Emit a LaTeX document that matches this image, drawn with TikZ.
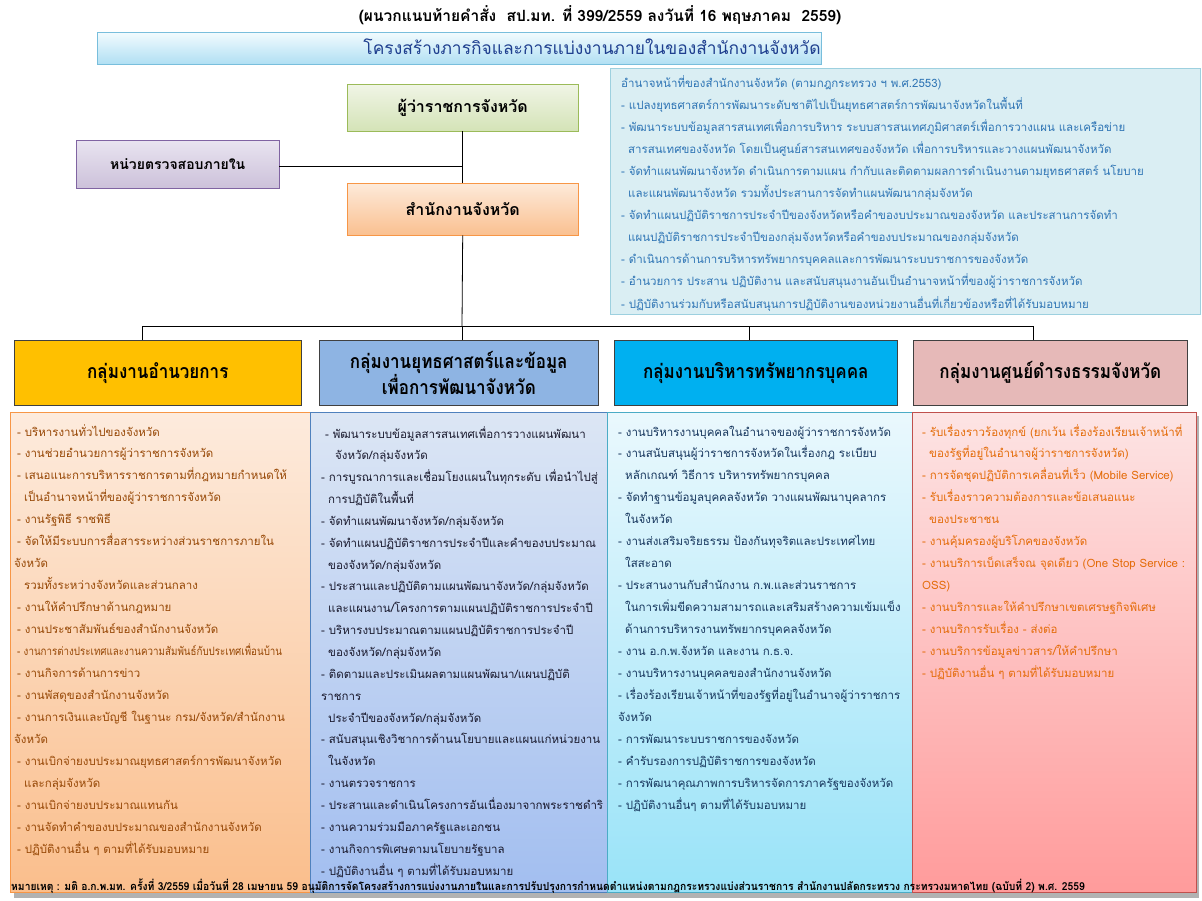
\documentclass[tikz,border=0pt]{standalone}
\usepackage{fontspec}
\setmainfont{Loma}[Script=Thai]
\definecolor{infofill}{HTML}{DAEEF3}
\definecolor{infodraw}{HTML}{9DD0DF}
\definecolor{infotext}{HTML}{2F75B5}
\definecolor{titletext}{HTML}{1F3F8F}
\definecolor{c1text}{HTML}{974806}
\definecolor{c2text}{HTML}{1A1A2E}
\definecolor{c3text}{HTML}{17375E}
\definecolor{c4text}{HTML}{E46C0A}
\newcommand\tallhead[1]{\scalebox{1}[1.15]{#1}}
\tikzset{
  box/.style={draw, inner sep=0pt, anchor=north west, align=center},
  wire/.style={draw=black, line width=0.8pt},
  ltxt/.style={anchor=base west, inner sep=0pt, font=\fontsize{11.5}{14}\selectfont},
  itxt/.style={anchor=base west, inner sep=0pt, font=\fontsize{11.5}{14}\selectfont, text=infotext},
  headbox/.style={box, draw=black!75, line width=0.6pt, minimum height=65pt, font=\bfseries\fontsize{17}{24}\selectfont},
}
\begin{document}
\begin{tikzpicture}[x=1pt,y=-1pt]
\useasboundingbox (0,0) rectangle (1202,900);
\fill[white] (0,0) rectangle (1202,900);
% caption
\node[anchor=base, inner sep=0pt, font=\bfseries\fontsize{15.5}{18}\selectfont] (cap) at (600,21) {(ผนวกแนบท้ายคำสั่ง\ \ สป.มท. ที่ 399/2559 ลงวันที่ 16 พฤษภาคม\ \ 2559)};
% title
\node[box, minimum width=724pt, minimum height=32pt, top color={rgb,255:red,242;green,251;blue,254}, bottom color={rgb,255:red,176;green,223;blue,243}, draw={rgb,255:red,120;green,190;blue,220}] (title) at (97,32) {};
\node[anchor=base, inner sep=0pt, text=titletext, font=\fontsize{17.4}{22}\selectfont] (titletxt) at (592,54) {โครงสร้างภารกิจและการแบ่งงานภายในของสำนักงานจังหวัด};
% info box
\node[box, minimum width=590pt, minimum height=246pt, fill=infofill, draw=infodraw] (info) at (610,68) {};
\foreach \t [count=\i from 0] in {
อำนาจหน้าที่ของสำนักงานจังหวัด (ตามกฎกระทรวง ฯ พ.ศ.2553),
- แปลงยุทธศาสตร์การพัฒนาระดับชาติไปเป็นยุทธศาสตร์การพัฒนาจังหวัดในพื้นที่,
- พัฒนาระบบข้อมูลสารสนเทศเพื่อการบริหาร ระบบสารสนเทศภูมิศาสตร์เพื่อการวางแผน และเครือข่าย,
\hspace{7pt}สารสนเทศของจังหวัด โดยเป็นศูนย์สารสนเทศของจังหวัด เพื่อการบริหารและวางแผนพัฒนาจังหวัด,
- จัดทำแผนพัฒนาจังหวัด ดำเนินการตามแผน กำกับและติดตามผลการดำเนินงานตามยุทธศาสตร์ นโยบาย,
\hspace{7pt}และแผนพัฒนาจังหวัด รวมทั้งประสานการจัดทำแผนพัฒนากลุ่มจังหวัด,
- จัดทำแผนปฏิบัติราชการประจำปีของจังหวัดหรือคำของบประมาณของจังหวัด และประสานการจัดทำ,
\hspace{7pt}แผนปฏิบัติราชการประจำปีของกลุ่มจังหวัดหรือคำของบประมาณของกลุ่มจังหวัด,
- ดำเนินการด้านการบริหารทรัพยากรบุคคลและการพัฒนาระบบราชการของจังหวัด,
- อำนวยการ ประสาน ปฏิบัติงาน และสนับสนุนงานอันเป็นอำนาจหน้าที่ของผู้ว่าราชการจังหวัด,
- ปฏิบัติงานร่วมกับหรือสนับสนุนการปฏิบัติงานของหน่วยงานอื่นที่เกี่ยวข้องหรือที่ได้รับมอบหมาย}
  \node[itxt] (info-\i) at (621, 87+22.1*\i) {\t};
% governor, audit, office
\node[box, minimum width=231pt, minimum height=47pt, top color={rgb,255:red,240;green,245;blue,230}, bottom color={rgb,255:red,212;green,227;blue,183}, draw={rgb,255:red,155;green,187;blue,89}, font=\bfseries\fontsize{16}{20}\selectfont] (gov) at (347,84) {ผู้ว่าราชการจังหวัด};
\node[box, minimum width=203pt, minimum height=48pt, top color={rgb,255:red,233;green,228;blue,240}, bottom color={rgb,255:red,204;green,193;blue,218}, draw={rgb,255:red,128;green,100;blue,162}, font=\bfseries\fontsize{14}{18}\selectfont] (audit) at (76,140) {หน่วยตรวจสอบภายใน};
\node[box, minimum width=231pt, minimum height=52pt, top color={rgb,255:red,253;green,234;blue,218}, bottom color={rgb,255:red,250;green,192;blue,144}, draw={rgb,255:red,247;green,150;blue,70}, font=\bfseries\fontsize{16}{20}\selectfont] (office) at (347,183) {สำนักงานจังหวัด};
% headers
\node[headbox, minimum width=287pt, fill={rgb,255:red,255;green,192;blue,0}] (h1) at (14,340) {\tallhead{กลุ่มงานอำนวยการ}};
\node[headbox, minimum width=279pt, fill={rgb,255:red,142;green,180;blue,227}] (h2) at (319,340) {\tallhead{กลุ่มงานยุทธศาสตร์และข้อมูล}\\\tallhead{เพื่อการพัฒนาจังหวัด}};
\node[headbox, minimum width=283pt, fill={rgb,255:red,0;green,176;blue,240}] (h3) at (614,340) {\tallhead{กลุ่มงานบริหารทรัพยากรบุคคล}};
\node[headbox, minimum width=274pt, fill={rgb,255:red,230;green,185;blue,184}] (h4) at (913,340) {\tallhead{กลุ่มงานศูนย์ดำรงธรรมจังหวัด}};
% connectors
\coordinate (bus) at (462,326);
\coordinate (auditj) at (462,166);
\draw[wire] (gov.south) -- (office.north);
\draw[wire] (audit.east |- auditj) -- (auditj);
\draw[wire] (office.south) -- (bus);
\draw[wire] (142,326) coordinate (b1) -- (1033,326) coordinate (b4);
\draw[wire] (b1) -- (h1.north -| b1);
\draw[wire] (bus) -- (h2.north -| bus);
\coordinate (b3) at (749,326);
\draw[wire] (b3) -- (h3.north -| b3);
\draw[wire] (b4) -- (h4.north -| b4);
% shadow of content boxes
\fill[black!30] (14,416) rectangle (1199,898);
% content boxes
\node[box, minimum width=300pt, minimum height=480pt, top color={rgb,255:red,253;green,235;blue,221}, bottom color={rgb,255:red,250;green,190;blue,140}, draw={rgb,255:red,247;green,150;blue,70}, line width=0.8pt] (c1) at (10,412) {};
\node[box, minimum width=297pt, minimum height=480pt, top color={rgb,255:red,220;green,230;blue,244}, bottom color={rgb,255:red,162;green,190;blue,240}, draw={rgb,255:red,79;green,129;blue,189}, line width=0.8pt] (c2) at (310,412) {};
\node[box, minimum width=305pt, minimum height=480pt, top color={rgb,255:red,234;green,248;blue,253}, bottom color={rgb,255:red,153;green,227;blue,248}, draw={rgb,255:red,75;green,172;blue,198}, line width=0.8pt] (c3) at (607,412) {};
\node[box, minimum width=284pt, minimum height=480pt, top color={rgb,255:red,253;green,228;blue,228}, bottom color={rgb,255:red,255;green,155;blue,155}, draw={rgb,255:red,192;green,80;blue,77}, line width=0.8pt] (c4) at (912,412) {};
% column 1 text
\foreach \t [count=\i from 0] in {
\hspace{3pt}- บริหารงานทั่วไปของจังหวัด,
\hspace{3pt}- งานช่วยอำนวยการผู้ว่าราชการจังหวัด,
\hspace{3pt}- เสนอแนะการบริหารราชการตามที่กฎหมายกำหนดให้,
\hspace{10pt}เป็นอำนาจหน้าที่ของผู้ว่าราชการจังหวัด,
\hspace{3pt}- งานรัฐพิธี ราชพิธี,
\hspace{3pt}- จัดให้มีระบบการสื่อสารระหว่างส่วนราชการภายใน,
จังหวัด,
\hspace{10pt}รวมทั้งระหว่างจังหวัดและส่วนกลาง,
\hspace{3pt}- งานให้คำปรึกษาด้านกฎหมาย,
\hspace{3pt}- งานประชาสัมพันธ์ของสำนักงานจังหวัด,
\hspace{3pt}\scalebox{0.85}[1]{- งานการต่างประเทศและงานความสัมพันธ์กับประเทศเพื่อนบ้าน},
\hspace{3pt}- งานกิจการด้านการข่าว,
\hspace{3pt}- งานพัสดุของสำนักงานจังหวัด,
\hspace{3pt}- งานการเงินและบัญชี ในฐานะ กรม/จังหวัด/สำนักงาน,
จังหวัด,
\hspace{3pt}- งานเบิกจ่ายงบประมาณยุทธศาสตร์การพัฒนาจังหวัด,
\hspace{10pt}และกลุ่มจังหวัด,
\hspace{3pt}- งานเบิกจ่ายงบประมาณแทนกัน,
\hspace{3pt}- งานจัดทำคำของบประมาณของสำนักงานจังหวัด,
\hspace{3pt}- ปฏิบัติงานอื่น ๆ ตามที่ได้รับมอบหมาย}
  \node[ltxt, text=c1text] (c1-\i) at (14, 436+21.95*\i) {\t};
% column 2 text
\foreach \t [count=\i from 0] in {
\hspace{4pt}- พัฒนาระบบข้อมูลสารสนเทศเพื่อการวางแผนพัฒนา,
\hspace{14pt}จังหวัด/กลุ่มจังหวัด,
- การบูรณาการและเชื่อมโยงแผนในทุกระดับ เพื่อนำไปสู่,
\hspace{7pt}การปฏิบัติในพื้นที่,
- จัดทำแผนพัฒนาจังหวัด/กลุ่มจังหวัด,
- จัดทำแผนปฏิบัติราชการประจำปีและคำของบประมาณ,
\hspace{7pt}ของจังหวัด/กลุ่มจังหวัด,
- ประสานและปฏิบัติตามแผนพัฒนาจังหวัด/กลุ่มจังหวัด,
\hspace{7pt}และแผนงาน/โครงการตามแผนปฏิบัติราชการประจำปี,
- บริหารงบประมาณตามแผนปฏิบัติราชการประจำปี,
\hspace{7pt}ของจังหวัด/กลุ่มจังหวัด,
- ติดตามและประเมินผลตามแผนพัฒนา/แผนปฏิบัติ,
ราชการ,
\hspace{7pt}ประจำปีของจังหวัด/กลุ่มจังหวัด,
- สนับสนุนเชิงวิชาการด้านนโยบายและแผนแก่หน่วยงาน,
\hspace{7pt}ในจังหวัด,
- งานตรวจราชการ,
- ประสานและดำเนินโครงการอันเนื่องมาจากพระราชดำริ,
- งานความร่วมมือภาครัฐและเอกชน,
- งานกิจการพิเศษตามนโยบายรัฐบาล,
- ปฏิบัติงานอื่น ๆ ตามที่ได้รับมอบหมาย}
  \node[ltxt, text=c2text] (c2-\i) at (321, 438+21.85*\i) {\t};
% column 3 text
\foreach \t [count=\i from 0] in {
- งานบริหารงานบุคคลในอำนาจของผู้ว่าราชการจังหวัด,
- งานสนับสนุนผู้ว่าราชการจังหวัดในเรื่องกฎ ระเบียบ,
\hspace{7pt}หลักเกณฑ์ วิธีการ บริหารทรัพยากรบุคคล,
- จัดทำฐานข้อมูลบุคคลจังหวัด วางแผนพัฒนาบุคลากร,
\hspace{7pt}ในจังหวัด,
- งานส่งเสริมจริยธรรม ป้องกันทุจริตและประเทศไทย,
\hspace{7pt}ใสสะอาด,
- ประสานงานกับสำนักงาน ก.พ.และส่วนราชการ,
\hspace{7pt}ในการเพิ่มขีดความสามารถและเสริมสร้างความเข้มแข็ง,
\hspace{7pt}ด้านการบริหารงานทรัพยากรบุคคลจังหวัด,
- งาน อ.ก.พ.จังหวัด และงาน ก.ธ.จ.,
- งานบริหารงานบุคคลของสำนักงานจังหวัด,
- เรื่องร้องเรียนเจ้าหน้าที่ของรัฐที่อยู่ในอำนาจผู้ว่าราชการ,
จังหวัด,
- การพัฒนาระบบราชการของจังหวัด,
- คำรับรองการปฏิบัติราชการของจังหวัด,
- การพัฒนาคุณภาพการบริหารจัดการภาครัฐของจังหวัด,
- ปฏิบัติงานอื่นๆ ตามที่ได้รับมอบหมาย}
  \node[ltxt, text=c3text] (c3-\i) at (618, 436+21.95*\i) {\t};
% column 4 text
\foreach \t [count=\i from 0] in {
- รับเรื่องราวร้องทุกข์ (ยกเว้น เรื่องร้องเรียนเจ้าหน้าที่,
\hspace{7pt}ของรัฐที่อยู่ในอำนาจผู้ว่าราชการจังหวัด),
- การจัดชุดปฏิบัติการเคลื่อนที่เร็ว (Mobile Service),
- รับเรื่องราวความต้องการและข้อเสนอแนะ,
\hspace{7pt}ของประชาชน,
- งานคุ้มครองผู้บริโภคของจังหวัด,
- งานบริการเบ็ดเสร็จณ จุดเดียว (One Stop Service :,
OSS),
- งานบริการและให้คำปรึกษาเขตเศรษฐกิจพิเศษ,
- งานบริการรับเรื่อง - ส่งต่อ,
- งานบริการข้อมูลข่าวสาร/ให้คำปรึกษา,
- ปฏิบัติงานอื่น ๆ ตามที่ได้รับมอบหมาย}
  \node[ltxt, text=c4text] (c4-\i) at (922, 436+21.95*\i) {\t};
% footer
\node[anchor=base west, inner sep=0pt, font=\bfseries\fontsize{11}{13}\selectfont] (foot) at (11,890) {\scalebox{0.935}[1]{หมายเหตุ : มติ อ.ก.พ.มท. ครั้งที่ 3/2559 เมื่อวันที่ 28 เมษายน 59 อนุมัติการจัดโครงสร้างการแบ่งงานภายในและการปรับปรุงการกำหนดตำแหน่งตามกฎกระทรวงแบ่งส่วนราชการ สำนักงานปลัดกระทรวง กระทรวงมหาดไทย (ฉบับที่ 2) พ.ศ. 2559}};
\end{tikzpicture}
\end{document}
